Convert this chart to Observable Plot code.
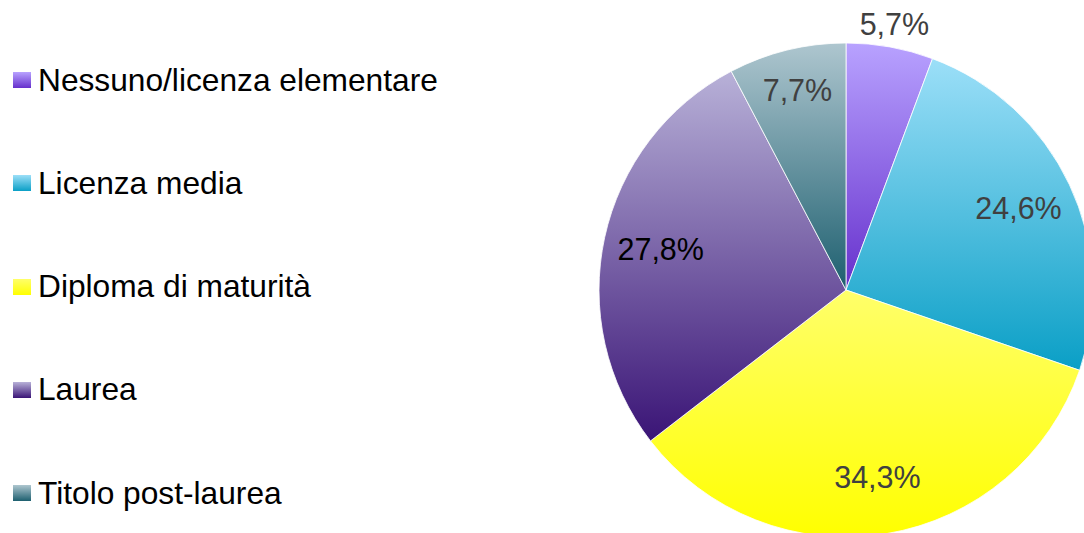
<!DOCTYPE html>
<html><head><meta charset="utf-8">
<script src="https://cdn.jsdelivr.net/npm/d3@7"></script>
<script src="https://cdn.jsdelivr.net/npm/@observablehq/plot@0.6"></script>
<style>
body{margin:0;background:#fff;font-family:"Liberation Sans",Arial,Helvetica,sans-serif;}
#wrap{position:relative;width:1084px;height:533px;overflow:hidden}
#chart{position:absolute;left:0;top:0}
.item{position:absolute;left:13px;height:36px;display:flex;align-items:center;font-size:31.7px;color:#000;white-space:nowrap}
.sw{width:18px;height:16px;margin-right:7px;flex:none}
</style></head><body>
<div id="wrap"><div id="chart"></div><div id="legend"></div></div>
<script>
// ---- data ----
const categories = ["Nessuno/licenza elementare", "Licenza media", "Diploma di maturità", "Laurea", "Titolo post-laurea"];
const values = [5.7, 24.6, 34.3, 27.8, 7.7];
const valueLabels = ["5,7%", "24,6%", "34,3%", "27,8%", "7,7%"];

// ---- styles ----
const topColors = ["#b8a2ff", "#9cdff8", "#ffff6a", "#b8b1d8", "#aec6cf"];
const bottomColors = ["#6630cc", "#0a9fc6", "#ffff00", "#3a1476", "#1d5f6f"];
const labelColors = ["#404040", "#404040", "#404040", "#000000", "#404040"];

const data = categories.map((c, i) => ({category: c, value: values[i], label: valueLabels[i], i}));
const arcs = d3.pie().sort(null).value(d => d.value)(data);
const total = d3.sum(values);
const labelData = arcs.map(a => {
  const mid = (a.startAngle + a.endAngle) / 2;
  const share = a.data.value / total;
  const k = share < 0.06 ? 1.09 : share < 0.1 ? 0.83 : 0.77;
  return {label: a.data.label, lx: Math.sin(mid) * k, ly: Math.cos(mid) * k, color: labelColors[a.data.i]};
});

const pieMark = (index, scales, vals, dims) => {
  const cx = scales.x(0), cy = scales.y(0);
  const r = scales.x(1) - scales.x(0);
  const g = d3.create("svg:g");
  const defs = g.append("defs");
  data.forEach((d, i) => {
    const lg = defs.append("linearGradient").attr("id", "grad" + i)
      .attr("x1", 0).attr("y1", 0).attr("x2", 0).attr("y2", 1);
    lg.append("stop").attr("offset", 0).attr("stop-color", topColors[i]);
    lg.append("stop").attr("offset", 1).attr("stop-color", bottomColors[i]);
  });
  const arcGen = d3.arc().innerRadius(0).outerRadius(r);
  g.append("g").attr("transform", `translate(${cx},${cy})`)
    .selectAll("path").data(arcs).join("path")
    .attr("d", arcGen)
    .attr("fill", (a) => `url(#grad${a.data.i})`)
    .attr("stroke", "#ffffff").attr("stroke-width", 0.8).attr("stroke-linejoin", "round");
  return g.node();
};

const chart = Plot.plot({
  width: 1084, height: 533, margin: 0,
  style: {fontFamily: '"Liberation Sans", Arial, sans-serif', background: "transparent"},
  x: {domain: [-1, 1], range: [599, 1093], axis: null},
  y: {domain: [-1, 1], range: [537, 43], axis: null},
  color: {type: "identity"},
  marks: [
    pieMark,
    Plot.text(labelData, {x: "lx", y: "ly", text: "label", fill: "color", fontSize: 30.5, fontFamily: '"Liberation Sans", Arial, sans-serif'})
  ]
});
document.getElementById("chart").appendChild(chart);

// ---- legend ----
const legend = d3.select("#legend");
categories.forEach((c, i) => {
  const item = legend.append("div").attr("class", "item").style("top", (80 + i * 103.25 - 18) + "px");
  item.append("div").attr("class", "sw").style("background", `linear-gradient(${topColors[i]}, ${bottomColors[i]})`);
  item.append("span").text(c);
});
</script>
</body></html>
